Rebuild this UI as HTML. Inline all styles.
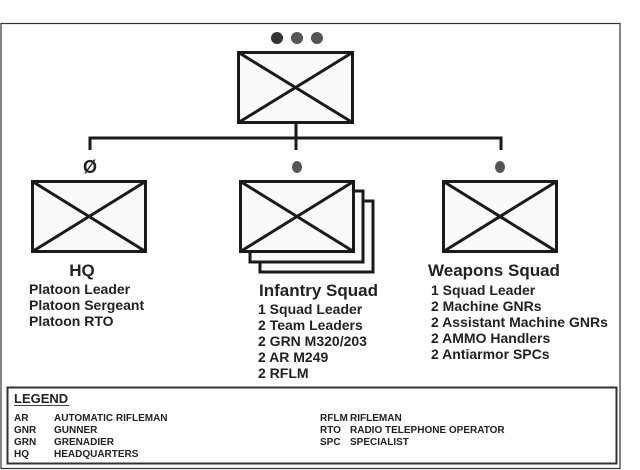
<!DOCTYPE html>
<html><head><meta charset="utf-8"><style>
html,body{margin:0;padding:0;background:#fff;}
svg{display:block;}
text{font-family:"Liberation Sans",Arial,sans-serif;font-weight:bold;fill:#222;}
</style></head><body>
<svg width="640" height="470" viewBox="0 0 640 470" xmlns="http://www.w3.org/2000/svg">
<rect x="1" y="23.5" width="619" height="445" fill="#fff" stroke="#333" stroke-width="1.2"/>
<circle cx="277" cy="38" r="6" fill="#333"/>
<circle cx="297" cy="38" r="6" fill="#555"/>
<circle cx="317" cy="38" r="6" fill="#555"/>
<g stroke="#1a1a1a" stroke-width="3" fill="#fafafa">
<rect x="238.5" y="52.5" width="114" height="70"/>
<line x1="238.5" y1="52.5" x2="352.5" y2="122.5"/><line x1="352.5" y1="52.5" x2="238.5" y2="122.5"/>
<line x1="296" y1="122" x2="296" y2="150"/>
<polyline points="90,150 90,138 501,138 501,150" fill="none"/>
<rect x="32.5" y="181.5" width="113" height="70"/>
<line x1="32.5" y1="181.5" x2="145.5" y2="251.5"/><line x1="145.5" y1="181.5" x2="32.5" y2="251.5"/>
<rect x="260" y="201" width="113" height="71"/>
<rect x="250" y="191" width="113" height="71"/>
<rect x="240.5" y="181.5" width="113" height="70"/>
<line x1="240.5" y1="181.5" x2="353.5" y2="251.5"/><line x1="353.5" y1="181.5" x2="240.5" y2="251.5"/>
<rect x="443.5" y="181.5" width="113" height="70"/>
<line x1="443.5" y1="181.5" x2="556.5" y2="251.5"/><line x1="556.5" y1="181.5" x2="443.5" y2="251.5"/>
</g>
<text x="90" y="173" font-size="18" text-anchor="middle" fill="#111">Ø</text>
<ellipse cx="297" cy="167" rx="5" ry="6" fill="#555"/>
<ellipse cx="500" cy="167" rx="5" ry="6" fill="#555"/>
<text x="82" y="276" font-size="17" text-anchor="middle">HQ</text>
<g font-size="14">
<text x="29" y="294">Platoon Leader</text>
<text x="29" y="310">Platoon Sergeant</text>
<text x="29" y="326">Platoon RTO</text>
</g>
<text x="259" y="296" font-size="17">Infantry Squad</text>
<g font-size="14">
<text x="258" y="314">1 Squad Leader</text>
<text x="258" y="330">2 Team Leaders</text>
<text x="258" y="346">2 GRN M320/203</text>
<text x="258" y="362">2 AR M249</text>
<text x="258" y="378">2 RFLM</text>
</g>
<text x="428" y="276" font-size="17">Weapons Squad</text>
<g font-size="14">
<text x="431" y="295">1 Squad Leader</text>
<text x="431" y="311">2 Machine GNRs</text>
<text x="431" y="327">2 Assistant Machine GNRs</text>
<text x="431" y="343">2 AMMO Handlers</text>
<text x="431" y="359">2 Antiarmor SPCs</text>
</g>
<rect x="7.5" y="387.5" width="609" height="76" fill="#fff" stroke="#333" stroke-width="2"/>
<text x="14" y="403" font-size="13" fill="#444">LEGEND</text>
<line x1="14" y1="405.5" x2="69" y2="405.5" stroke="#444" stroke-width="1"/>
<g font-size="10" fill="#333">
<text x="14" y="421">AR</text><text x="54" y="421">AUTOMATIC RIFLEMAN</text>
<text x="14" y="433">GNR</text><text x="54" y="433">GUNNER</text>
<text x="14" y="445">GRN</text><text x="54" y="445">GRENADIER</text>
<text x="14" y="457">HQ</text><text x="54" y="457">HEADQUARTERS</text>
<text x="320" y="421">RFLM</text><text x="350" y="421">RIFLEMAN</text>
<text x="320" y="433">RTO</text><text x="350" y="433">RADIO TELEPHONE OPERATOR</text>
<text x="320" y="445">SPC</text><text x="350" y="445">SPECIALIST</text>
</g>
</svg>
</body></html>
